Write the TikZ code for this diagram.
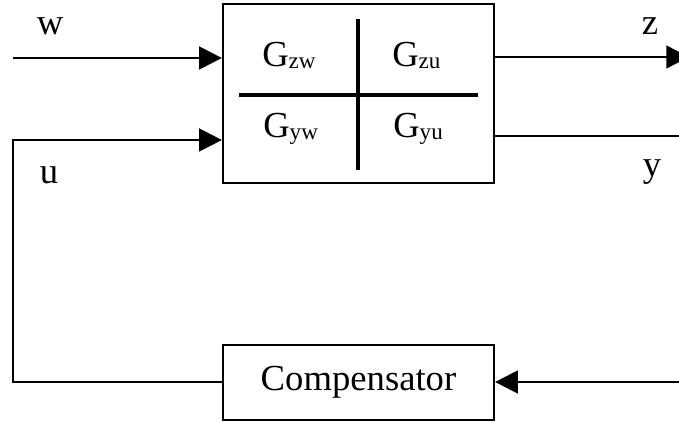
\documentclass[tikz,border=0pt]{standalone}
\usepackage{fontspec}
\setmainfont{Liberation Serif}
\usetikzlibrary{arrows.meta}
\newcommand\Gsub[1]{G\raisebox{-1.5pt}{\fontsize{17.3}{20}\selectfont #1}}
\begin{document}
\begin{tikzpicture}[x=0.75pt,y=-0.75pt,
  every node/.style={font=\fontsize{27.5}{33}\selectfont},
  line/.style={line width=1.8pt},
  arr/.style={line width=1.8pt,-{Triangle[length=17pt,width=17pt]}},
  box/.style={draw,line width=1.7pt,inner sep=0pt},
  divider/.style={line width=3pt},
  lbl/.style={anchor=base,inner sep=0pt}]
\useasboundingbox (0,0) rectangle (679,423);
\clip (0,0) rectangle (679,423);
% plant
\node[box,minimum width=203.25pt,minimum height=134.25pt] (P) at (358.5,93.5) {};
\coordinate (hl) at (239,95); \coordinate (hr) at (478,95);
\coordinate (vt) at (358,19); \coordinate (vb) at (358,170);
\draw[divider] (hl) -- (hr);
\draw[divider] (vt) -- (vb);
\node[anchor=base west,inner sep=0pt] (gzw) at (262,67) {\Gsub{zw}};
\node[anchor=base west,inner sep=0pt] (gzu) at (392,67) {\Gsub{zu}};
\node[anchor=base west,inner sep=0pt] (gyw) at (263,138) {\Gsub{yw}};
\node[anchor=base west,inner sep=0pt] (gyu) at (393,138) {\Gsub{yu}};
% compensator
\node[box,minimum width=203.25pt,minimum height=56.25pt] (C) at (358.5,382.5) {Compensator};
% signals
\coordinate (win) at (13,58);
\coordinate (uin) at (13,140);
\coordinate (ul) at (13,382);
\coordinate (zout) at (689,57);
\coordinate (yr) at (685,136);
\coordinate (yb) at (685,382);
\draw[arr] (win) -- (P.west |- win);
\draw[arr] (C.west |- ul) -- (ul) -- (uin) -- (P.west |- uin);
\draw[arr] (P.east |- zout) -- (zout);
\draw[line] (P.east |- yr) -- (yr) -- (yb);
\draw[arr] (yb) -- (C.east |- yb);
% labels
\node[lbl] (lw) at (50,35) {w};
\node[lbl] (lu) at (49,184) {u};
\node[lbl] (lz) at (650,35) {z};
\node[lbl] (ly) at (652,177) {y};
\end{tikzpicture}
\end{document}
